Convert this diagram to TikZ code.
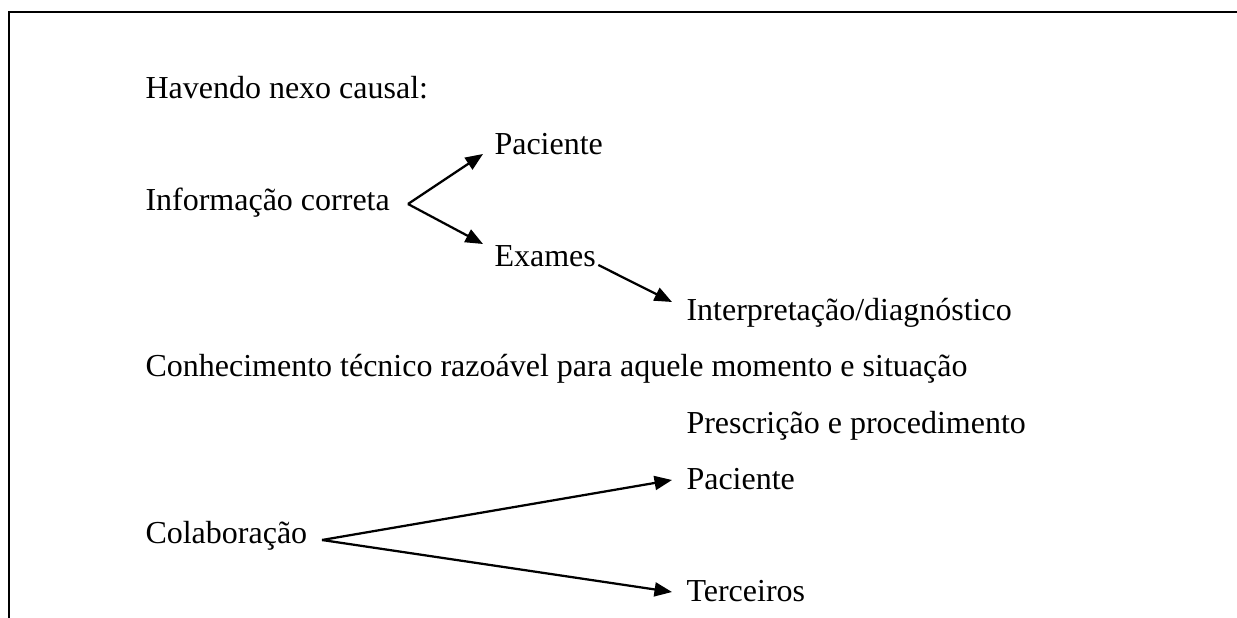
\documentclass[tikz,border=0pt]{standalone}
\usepackage{fontspec}
\setmainfont{Liberation Serif}
\usetikzlibrary{arrows.meta}
\tikzset{
  texto/.style={anchor=base west,inner sep=0pt,font=\fontsize{12.8}{15}\selectfont},
  seta/.style={line width=0.9pt,-{Triangle[length=7pt,width=5.6pt]}}
}
\begin{document}
\begin{tikzpicture}[x=0.4pt,y=-0.4pt]
        \useasboundingbox (0,0) rectangle (1237,618);
        % Moldura
        \draw[line width=1.1pt] (9,618)--(9,12)--(1237,12);
        % Textos
        \node[texto] (havendo) at (145,99) {Havendo nexo causal:};
        \node[texto] (paciente) at (494,155) {Paciente};
        \node[texto] (informacao) at (145,211) {Informação correta};
        \node[texto] (exames) at (494,267) {Exames};
        \node[texto] (interp) at (686,321) {Interpretação/diagnóstico};
        \node[texto] (conhecimento) at (145,376) {Conhecimento técnico razoável para aquele momento e situação};
        \node[texto] (prescricao) at (686,433) {Prescrição e procedimento};
        \node[texto] (paciente2) at (686,489) {Paciente};
        \node[texto] (colaboracao) at (145,543) {Colaboração};
        \node[texto] (terceiros) at (686,601) {Terceiros};
        % Pontos de saída
        \coordinate (ic) at (408,204);
        \coordinate (col) at (322,540);
        % Setas
        \draw[seta] (ic)--([shift={(-11,-1)}]paciente.base west);
        \draw[seta] (ic)--([shift={(-11,-23)}]exames.base west);
        \draw[seta] ([shift={(2,-2)}]exames.base east)--([shift={(-14,-19)}]interp.base west);
        \draw[seta] (col)--([shift={(-14,-9)}]paciente2.base west);
        \draw[seta] (col)--([shift={(-14,-9)}]terceiros.base west);
    \end{tikzpicture}
\end{document}
